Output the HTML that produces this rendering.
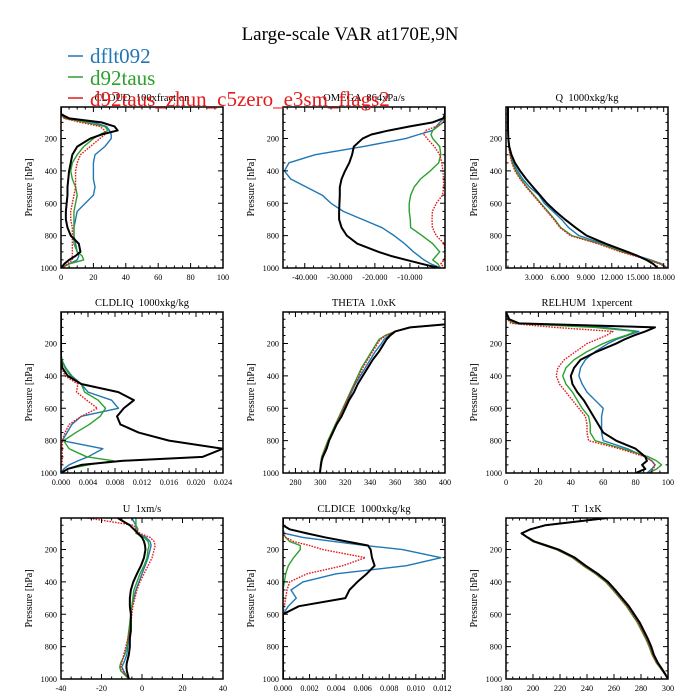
<!DOCTYPE html>
<html><head><meta charset="utf-8"><style>
html,body{margin:0;padding:0;background:#fff;}
svg{display:block;font-family:"Liberation Serif",serif;}
svg text{white-space:pre;}
</style></head><body>
<svg id="fig" width="700" height="700" viewBox="0 0 700 700">
<rect width="700" height="700" fill="#fff"/>
<text x="350" y="40" font-size="19" text-anchor="middle" fill="#000">Large-scale VAR at170E,9N</text>
<g id="panels"></g>
<g>
<line x1="68" y1="56" x2="83" y2="56" stroke="#1f77b4" stroke-width="1.5"/>
<text x="90" y="63" font-size="21" fill="#1f77b4">dflt092</text>
<line x1="68" y1="77" x2="83" y2="77" stroke="#2ca02c" stroke-width="1.5"/>
<text x="90" y="85" font-size="21" fill="#2ca02c">d92taus</text>
<line x1="68" y1="98" x2="83" y2="98" stroke="#e41a1c" stroke-width="1.5"/>
<text x="90" y="106" font-size="21" fill="#e41a1c">d92taus_zhun_c5zero_e3sm_flags2</text>
</g>
</svg>
<script>
const levels=[5,50,75,100,125,150,175,200,250,300,350,400,450,500,550,600,650,700,750,800,850,900,925,950,975,1000];

const cloudBlack=[0,0,5,25,33,35,25,18,10,7,6,5,4.5,4,4,3.5,3,3,4,6,11,12,9,5,2,0];
const cloudBlue=[0,0,3,20,28,30,31,31,27,21,20,20,20,21,20,15,10,9,8,8,9,10,11,10,5,0];
const cloudGreen=[0,0,2,15,27,29,24,20,14,10,7,6,7,9,10,9,8,8,8,8,8,10,13,14,5,0];
const cloudRed=[0,0,2,12,24,27,27,24,18,12,10,9,9,9,8,7,6,6,7,7,7,7,7,7,4,1];

const omegaBlack=[0,0,-500,-3500,-10000,-16000,-21000,-23500,-26000,-26500,-27300,-28500,-29500,-30000,-30000,-30100,-30200,-30200,-29500,-28000,-25000,-19000,-15500,-11000,-6500,-1800];
const omegaBlue=[0,0,-300,-1500,-2500,-3500,-7500,-11200,-23500,-37000,-44500,-45800,-44000,-39500,-35000,-32500,-29000,-23500,-18000,-14500,-11500,-9000,-7500,-6000,-4000,-1300];
const omegaGreen=[0,0,0,-500,-2000,-3500,-4000,-3500,-1500,-1200,-1800,-4200,-7000,-8800,-9800,-10200,-10200,-9900,-9800,-6500,-3500,-1500,-2500,-3500,-2000,-1300];
const omegaRed=[0,0,0,-500,-2500,-5500,-6000,-5100,-3000,-1500,-900,-600,-400,-400,-700,-2500,-3600,-3700,-3600,-2500,-200,0,0,-300,-1200,-200];

const qBlack=[0,0,0,0,0,0.01,0.02,0.04,0.15,0.4,0.8,1.4,2.1,2.9,3.7,4.5,5.5,6.6,7.8,9.1,11.3,13.8,15,16,16.8,17.3];
const qBlue=[0,0,0,0,0,0.01,0.02,0.04,0.12,0.3,0.6,1.1,1.7,2.5,3.6,4.2,5.2,6.2,7,8.2,11,13.6,15,16.5,17.8,18.4];
const qGreen=[0,0,0,0,0,0.01,0.02,0.03,0.1,0.25,0.5,0.9,1.5,2.2,3,3.8,4.6,5.4,6.1,7.4,10.6,13.2,14.8,16.3,17.6,18.3];
const qRed=[0,0,0,0,0,0.01,0.02,0.03,0.09,0.22,0.45,0.8,1.4,2.1,2.9,3.7,4.5,5.3,6,7.2,10.4,13,14.6,16.2,17.6,18.5];

const liqBlack=[0,0,0,0,0,0,0,0,0,0,0.0002,0.001,0.003,0.0085,0.0108,0.0093,0.0083,0.0088,0.0115,0.016,0.024,0.021,0.009,0.003,0.001,0];
const liqBlue=[0,0,0,0,0,0,0,0,0,0.0001,0.0007,0.0016,0.003,0.004,0.0075,0.0085,0.003,0.0016,0.0009,0.0002,0.0062,0.004,0.0025,0.0012,0.0004,0];
const liqGreen=[0,0,0,0,0,0,0,0,0,0.0001,0.0006,0.0014,0.003,0.0035,0.0055,0.0066,0.0058,0.0042,0.0022,0.0004,0.0012,0.0038,0.0078,0.004,0.001,0];
const liqRed=[0,0,0,0,0,0,0,0,0,0,0.0001,0.0006,0.0025,0.0023,0.0038,0.0054,0.003,0.0012,0.0006,0.0002,0.0002,0.0002,0.0002,0.0001,0,0];

const thetaBlack=[700,500,410,372,360,356,353,351,347,342,338,334,330,327,323,320,317,313,310,307,305,302,301,300.5,300,299.5];
const thetaBlue=[700,500,410,372,360,355,351,349,344,340,336,332,328,325,322,319,316,313,310,307,304.5,302,301,300.5,300,300];
const thetaGreen=[700,500,410,372,360,352,347,345,341,337,333,330,327,324,321,318,315,312,309,306,303.5,301,300.5,300,300,300];
const thetaRed=[700,500,410,372,360,353,348,346,342,338,334,331,327.5,324.5,321.5,318.5,315.5,312.5,309.5,306.5,304,301.5,300.7,300.2,300,300];

const rhBlack=[0,2,8,92,86,79,73,68,56,46,42,40,41,44,48,51,54,57,60,68,80,86,87,84,86,80];
const rhBlue=[0,1,5,60,82,75,68,63,55,49,46,45,47,50,55,60,59,59,59,60,75,86,90,92,90,87];
const rhGreen=[0,1,5,55,80,74,66,60,50,42,37,35,37,41,44,47,51,52,52,55,72,88,93,96,93,88];
const rhRed=[0,1,3,30,66,62,56,50,43,36,32,31,33,37,41,45,49,50,50,51,70,86,90,92,91,89];

const uBlack=[-12,-6,-4,-2,0,1,1.5,1.7,1,-0.5,-2.5,-4.3,-5.5,-6,-6,-5.5,-5.5,-5.5,-6,-6,-6.5,-7.5,-7.7,-7.5,-7,-6.5];
const uBlue=[-5,-3,-3,-2,2,4,4.5,4,3,1.5,0,-1.5,-3,-4,-5,-5.5,-5.8,-6,-6.5,-7,-7.5,-9,-10,-9,-8,-6.5];
const uGreen=[-3,-3,-2,-3,1,3,3.5,3,2.5,1,-1,-2.5,-4,-4.5,-5,-5.5,-6,-6.5,-7,-7.5,-8.5,-10.5,-11,-10.5,-8.5,-6.5];
const uRed=[-27,-4,-3,-1,4,6,6.5,6,5,3,1,-1,-2.5,-3.5,-4.5,-5,-5.5,-6,-7,-8,-9,-10,-10.5,-9.5,-8,-6];

const iceBlack=[0,0,0.0005,0.0018,0.0032,0.0048,0.0064,0.0066,0.0067,0.0069,0.0063,0.0056,0.005,0.0047,0.0012,0,0,0,0,0,0,0,0,0,0,0];
const iceBlue=[0,0,0,0.0001,0.0015,0.0038,0.0062,0.009,0.0119,0.0093,0.004,0.0015,0.0006,0.001,0.0004,0,0,0,0,0,0,0,0,0,0,0];
const iceGreen=[0,0,0,0,0.0002,0.0005,0.0013,0.0013,0.0008,0.0004,0.0002,0.0001,0,0,0,0,0,0,0,0,0,0,0,0,0,0];
const iceRed=[0,0,0,0,0.0002,0.0008,0.002,0.003,0.0062,0.0045,0.0018,0.0005,0.0003,0.0002,0.0001,0,0,0,0,0,0,0,0,0,0,0];

const tBlack=[255,209,198,191.5,196,201,210,219,231,239,248,255.6,261,266,271,275,279,282,285,287.6,289.5,292.5,294.5,296.5,298.3,300];
const tBlue=[255,209,198,191.5,196,200.5,209.3,218.3,230.3,238.3,247.3,254.9,260.3,265.3,270.3,274.3,278.3,281.3,284.4,287,289,292,294,296.2,298.2,300];
const tRed=[255,209,198,191.5,195.8,200,208.7,217.7,229.7,237.7,246.7,254.3,259.7,264.7,269.7,273.7,277.7,280.8,283.9,286.5,288.6,291.6,293.8,296,298.1,300];
const tGreen=[255,209,198,191.5,195.6,199.7,208.3,217.2,229.2,237.2,246.2,253.8,259.2,264.2,269.2,273.2,277.2,280.3,283.4,286,288.2,291.3,293.6,295.8,298,300];

const yTicks=[200,400,600,800,1000];

const NS="http://www.w3.org/2000/svg";
function mk(tag,attrs,parent){const e=document.createElementNS(NS,tag);for(const k in attrs)e.setAttribute(k,attrs[k]);if(parent)parent.appendChild(e);return e;}

const cols=[61,283,506], rows=[107,312,518], W=162, H=161;
const panels=[
 {name:'cloud',title:'CLOUD  100xfraction',xmin:0,xmax:100,ticks:[0,20,40,60,80,100],dec:0,series:[cloudBlue,cloudGreen,cloudRed,cloudBlack]},
 {name:'omega',title:'OMEGA  864xPa/s',xmin:-46200,xmax:0,ticks:[-40000,-30000,-20000,-10000],dec:-1,series:[omegaBlue,omegaGreen,omegaRed,omegaBlack]},
 {name:'q',title:'Q  1000xkg/kg',xmin:-0.23,xmax:18.5,ticks:[3,6,9,12,15,18],dec:3,series:[qBlue,qGreen,qRed,qBlack]},
 {name:'cldliq',title:'CLDLIQ  1000xkg/kg',xmin:0,xmax:0.024,ticks:[0,0.004,0.008,0.012,0.016,0.02,0.024],dec:3,series:[liqBlue,liqGreen,liqRed,liqBlack]},
 {name:'theta',title:'THETA  1.0xK',xmin:270,xmax:400,ticks:[280,300,320,340,360,380,400],dec:0,series:[thetaBlue,thetaGreen,thetaRed,thetaBlack]},
 {name:'relhum',title:'RELHUM  1xpercent',xmin:0,xmax:100,ticks:[0,20,40,60,80,100],dec:0,series:[rhBlue,rhGreen,rhRed,rhBlack]},
 {name:'u',title:'U  1xm/s',xmin:-40,xmax:40,ticks:[-40,-20,0,20,40],dec:0,series:[uBlue,uGreen,uRed,uBlack]},
 {name:'cldice',title:'CLDICE  1000xkg/kg',xmin:0,xmax:0.0122,ticks:[0,0.002,0.004,0.006,0.008,0.01,0.012],dec:3,series:[iceBlue,iceGreen,iceRed,iceBlack]},
 {name:'t',title:'T  1xK',xmin:180,xmax:300,ticks:[180,200,220,240,260,280,300],dec:0,series:[tBlue,tGreen,tRed,tBlack]}
];
const colors=['#1f77b4','#2ca02c','#e41a1c','#000'];
const widths=[1.4,1.4,1.4,2];
const sNames=['dflt092','d92taus','d92taus-zhun','obs'];
const root=document.getElementById('panels');

function fmt(v,dec){
  if(dec===-1){return (v/1000).toFixed(3);}
  return dec>0?v.toFixed(dec):String(Math.round(v));
}

panels.forEach((P,i)=>{
  const x0=cols[i%3], y0=rows[Math.floor(i/3)];
  const pmin=5,pmax=1000;
  const X=v=>x0+(v-P.xmin)/(P.xmax-P.xmin)*W;
  const Y=p=>y0+(p-pmin)/(pmax-pmin)*H;
  const g=mk('g',{},root);
  
  
  const cp=mk('clipPath',{id:'clip'+i},g);
  mk('rect',{x:x0,y:y0,width:W,height:H},cp);
  const tt=mk('text',{x:x0+W/2,y:y0-6,'font-size':10.5,'text-anchor':'middle',fill:'#000'},g);
  tt.textContent=P.title;
  
  
  const yl=mk('text',{x:0,y:0,'font-size':10,'text-anchor':'middle',fill:'#000',transform:`translate(${x0-29},${y0+H/2}) rotate(-90)`},g);
  yl.textContent='Pressure [hPa]';
  
  
  const sg=mk('g',{'clip-path':`url(#clip${i})`},g);
  P.series.forEach((arr,k)=>{
    const pts=arr.map((v,j)=>X(v).toFixed(2)+','+Y(levels[j]).toFixed(2)).join(' ');
    const pl=mk('polyline',{points:pts,fill:'none',stroke:colors[k],'stroke-width':widths[k],'stroke-linejoin':'round'},sg);
    if(k===2)pl.setAttribute('stroke-dasharray','1.6,1.2');
    
    
  });
  const fr=mk('rect',{x:x0,y:y0,width:W,height:H,fill:'none',stroke:'#000','stroke-width':1.5},g);
  
  
  let d='';
  const step=P.ticks[1]-P.ticks[0];
  const minor=step/4;
  for(let v=P.ticks[0]-4*step; v<=P.xmax+1e-12; v+=minor){
    if(v<P.xmin-1e-12)continue;
    const isMaj=P.ticks.some(t=>Math.abs(t-v)<minor*0.1);
    const L=isMaj?5:2.5;const xx=X(v).toFixed(2);
    d+=`M${xx},${y0+H}v${-L}M${xx},${y0}v${L}`;
  }
  for(let p=50;p<=1000;p+=50){
    const isMaj=p%200===0;const L=isMaj?5:2.5;const yy=Y(p).toFixed(2);
    d+=`M${x0},${yy}h${L}M${x0+W},${yy}h${-L}`;
  }
  mk('path',{d:d,stroke:'#000','stroke-width':1,fill:'none'},g);
  P.ticks.forEach(t=>{
    const tx=mk('text',{x:X(t),y:y0+H+12,'font-size':8.2,'text-anchor':'middle',fill:'#000'},g);
    tx.textContent=fmt(t,P.dec);
    
    
  });
  yTicks.forEach(p=>{
    const tx=mk('text',{x:x0-4,y:Y(p)+3,'font-size':8.2,'text-anchor':'end',fill:'#000'},g);
    tx.textContent=String(p);
    
    
  });
});
</script>
</body></html>
